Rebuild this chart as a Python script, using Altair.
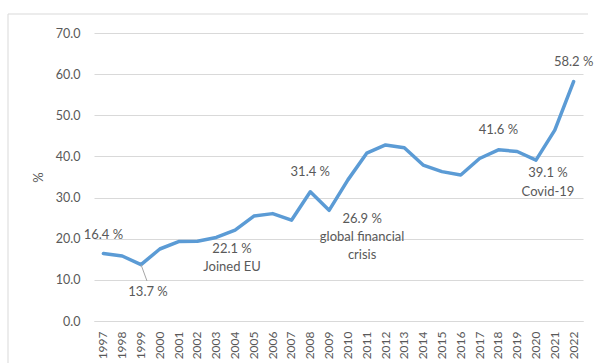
import altair as alt
import pandas as pd

years = [str(y) for y in range(1997, 2023)]
values = [16.4, 15.8, 13.7, 17.5, 19.3, 19.4, 20.3, 22.1, 25.5, 26.1, 24.5, 31.4, 26.9,
          34.3, 40.8, 42.8, 42.1, 37.9, 36.3, 35.5, 39.5, 41.6, 41.2, 39.1, 46.4, 58.2]

ann_years = ["1997", "1999", "2004", "2004", "2008", "2009", "2009", "2009", "2018", "2020", "2020", "2022"]
ann_values = [16.4, 13.7, 22.1, 22.1, 31.4, 26.9, 26.9, 26.9, 41.6, 39.1, 39.1, 58.2]
ann_texts = ["16.4 %", "13.7 %", "22.1 %", "Joined EU", "31.4 %", "26.9 %", "global financial",
             "crisis", "41.6 %", "39.1 %", "Covid-19", "58.2 %"]
ann_dx = [0, 7, -3, -3, 0, 33, 33, 33, 0, 12, 12, 0]
ann_dy = [-19, 27, 19, 37, -20, 9, 27, 45, -20, 13, 32, -20]

df = pd.DataFrame({"year": years, "value": values})

FONT = "Lato"
GRAY = "#595959"
GRID = "#d9d9d9"

x = alt.X("year:O", scale=alt.Scale(domain=years, paddingInner=0, paddingOuter=0),
          axis=alt.Axis(title=None, labelAngle=-90, labelAlign="right", labelBaseline="middle",
                        labelPadding=10, ticks=False, grid=False, domainColor=GRID, labelColor=GRAY,
                        labelFont=FONT, labelFontSize=12))
y = alt.Y("value:Q", scale=alt.Scale(domain=[0, 70], nice=False, zero=True),
          axis=alt.Axis(title="%", values=[0, 10, 20, 30, 40, 50, 60, 70], format=".1f",
                        ticks=False, domain=False, gridColor=GRID, labelColor=GRAY,
                        labelFont=FONT, labelFontSize=12.5, labelPadding=14,
                        titleColor=GRAY, titleFont=FONT, titleFontSize=13, titleFontWeight="normal",
                        titlePadding=10))

line = alt.Chart(df).mark_line(color="#5B9BD5", strokeWidth=3.5, strokeCap="round",
                               strokeJoin="round").encode(x=x, y=y)

layers = [line]

leader = alt.Chart(pd.DataFrame({"year": ["1999"], "value": [13.7]})).mark_rule(
    color="#a6a6a6", strokeWidth=1).encode(
    x=alt.X("year:O", scale=alt.Scale(domain=years, paddingInner=0, paddingOuter=0)),
    y="value:Q", x2=alt.value(53), y2=alt.value(248))
layers.append(leader)

for yr, v, t, dx, dy in zip(ann_years, ann_values, ann_texts, ann_dx, ann_dy):
    d = pd.DataFrame({"year": [yr], "value": [v], "text": [t]})
    layers.append(alt.Chart(d).mark_text(font=FONT, fontSize=13, color=GRAY, dx=dx, dy=dy,
                                         align="center", baseline="middle").encode(
        x=alt.X("year:O", scale=alt.Scale(domain=years, paddingInner=0, paddingOuter=0)),
        y="value:Q", text="text:N"))

# outer frame
frame = alt.Chart(df.head(1)).mark_rule(color=GRID, strokeWidth=1).encode(
    x=alt.value(-86), x2=alt.value(494), y=alt.value(-19))
frame_l = alt.Chart(df.head(1)).mark_rule(color=GRID, strokeWidth=1).encode(
    x=alt.value(-86), y=alt.value(-19), y2=alt.value(340))
layers += [frame, frame_l]

chart = alt.layer(*layers).properties(
    width=489, height=288,
    autosize=alt.AutoSizeParams(type="none"),
    padding={"left": 94, "top": 33, "right": 13, "bottom": 42},
    background="white",
).configure_view(strokeWidth=0, stroke="transparent")

chart.save("out.html", embed_options={"renderer": "svg", "actions": False})
